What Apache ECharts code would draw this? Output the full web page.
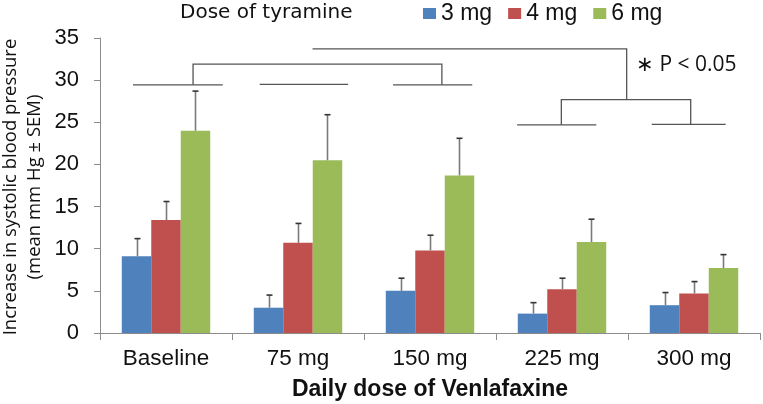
<!DOCTYPE html>
<html>
<head>
<meta charset="utf-8">
<script src="https://cdn.jsdelivr.net/npm/echarts@6/dist/echarts.min.js"></script>
<style>html,body{margin:0;padding:0;background:#fff;}#c{width:763px;height:404px;}</style>
</head>
<body>
<div id="c"></div>
<script>
// ---- data ----
var categories = ['Baseline', '75 mg', '150 mg', '225 mg', '300 mg'];
var seriesNames = ['3 mg', '4 mg', '6 mg'];
var mean3 = [9.1, 3.0, 5.0, 2.3, 3.3];
var mean4 = [13.4, 10.7, 9.8, 5.2, 4.7];
var mean6 = [24.0, 20.5, 18.7, 10.8, 7.7];
var sem3 = [2.1, 1.5, 1.5, 1.3, 1.5];
var sem4 = [2.2, 2.3, 1.8, 1.3, 1.4];
var sem6 = [4.7, 5.4, 4.4, 2.7, 1.6];
var yTicks = [0, 5, 10, 15, 20, 25, 30, 35];
// significance brackets: polylines of [category position, value]
var brackets = [
  [[-0.25, 29.45], [0.43, 29.45]],
  [[0.71, 29.5], [1.38, 29.5]],
  [[1.72, 29.45], [2.32, 29.45]],
  [[0.205, 29.45], [0.205, 31.9], [2.09, 31.9], [2.09, 29.45]],
  [[2.66, 24.7], [3.26, 24.7]],
  [[3.68, 24.75], [4.24, 24.75]],
  [[2.995, 24.7], [2.995, 27.7], [3.975, 27.7], [3.975, 24.75]],
  [[1.11, 33.7], [3.49, 33.7], [3.49, 27.7]]
];
var sigText = '\u2217 P < 0.05';

var colors = ['#4f81bd', '#c0504d', '#9bbb59'];
var means = [mean3, mean4, mean6];
var sems = [sem3, sem4, sem6];
var catGap = 0.33;

var chart = echarts.init(document.getElementById('c'), null, {renderer: 'canvas'});

var series = [];
means.forEach(function (m, i) {
  series.push({
    name: seriesNames[i], type: 'bar', data: m,
    itemStyle: {color: colors[i]},
    barGap: 0, barCategoryGap: (catGap * 100) + '%'
  });
});
means.forEach(function (m, i) {
  series.push({
    type: 'custom', silent: true, z: 5,
    data: m.map(function (v, j) { return [j, v, v + sems[i][j]]; }),
    renderItem: function (params, api) {
      var band = api.size([1, 0])[0];
      var bw = band * (1 - catGap) / 3;
      var off = (i - 1) * bw;
      var p0 = api.coord([api.value(0), api.value(1)]);
      var p1 = api.coord([api.value(0), api.value(2)]);
      var x = Math.round(p0[0] + off) + 0.5;
      return {type: 'group', children: [
        {type: 'line', shape: {x1: x, y1: p0[1], x2: x, y2: p1[1]}, style: {stroke: '#7a7a7a', lineWidth: 1.6}},
        {type: 'line', shape: {x1: x - 3, y1: p1[1], x2: x + 3, y2: p1[1]}, style: {stroke: '#333', lineWidth: 1.6}}
      ]};
    }
  });
});
series.push({
  type: 'custom', silent: true, z: 6,
  data: brackets.map(function (b, k) { return [k]; }),
  renderItem: function (params, api) {
    var band = api.size([1, 0])[0];
    var b = brackets[params.dataIndex];
    var pts = b.map(function (p) {
      var base = api.coord([0, p[1]]);
      return [base[0] + p[0] * band, base[1]];
    });
    return {type: 'polyline', shape: {points: pts}, style: {stroke: '#555', lineWidth: 1.3, fill: null}};
  }
});

chart.setOption({
  animation: false,
  backgroundColor: '#fff',
  textStyle: {fontFamily: 'Liberation Sans'},
  grid: {left: 100, right: 3, top: 38, bottom: 71, containLabel: false, outerBoundsMode: 'none'},
  legend: {
    data: seriesNames, left: 423, top: 2, padding: 0,
    itemWidth: 13, itemHeight: 11, itemGap: 16,
    icon: 'rect',
    textStyle: {fontFamily: 'Liberation Sans', fontSize: 23, color: '#111'}
  },
  title: {
    text: 'Dose of tyramine', left: 180, top: 3, padding: 0,
    textStyle: {fontFamily: 'DejaVu Sans', fontSize: 20, fontWeight: 'normal', color: '#111'}
  },
  xAxis: {
    type: 'category', data: categories,
    axisLine: {lineStyle: {color: '#8c8c8c', width: 1}},
    axisTick: {show: true, length: 7, lineStyle: {color: '#8c8c8c'}},
    axisLabel: {fontSize: 22.5, color: '#111', margin: 14, fontFamily: 'Liberation Sans'},
    name: 'Daily dose of Venlafaxine', nameLocation: 'middle', nameGap: 45,
    nameTextStyle: {fontFamily: 'Liberation Sans', fontSize: 23, fontWeight: 'bold', color: '#111'}
  },
  yAxis: {
    type: 'value', min: 0, max: 35, interval: 5,
    axisLine: {show: true, lineStyle: {color: '#8c8c8c', width: 1}},
    axisTick: {show: true, length: 6, lineStyle: {color: '#8c8c8c'}},
    splitLine: {show: false},
    axisLabel: {fontSize: 22, color: '#111', margin: 21, fontFamily: 'Liberation Sans',
      formatter: function (v) { return yTicks.indexOf(v) >= 0 ? String(v) : ''; }}
  },
  graphic: [
    {type: 'text', x: 23, y: 187, rotation: Math.PI / 2,
      style: {text: 'Increase in systolic blood pressure\n(mean mm Hg \u00b1 SEM)', fontFamily: 'Open Sans', fontSize: 18.5,
        lineHeight: 24, align: 'center', verticalAlign: 'middle', fill: '#111'}},
    {type: 'text', left: 636, top: 55,
      style: {text: sigText, fontFamily: 'Open Sans', fontSize: 21, fill: '#111'}}
  ],
  series: series
});
</script>
</body>
</html>
